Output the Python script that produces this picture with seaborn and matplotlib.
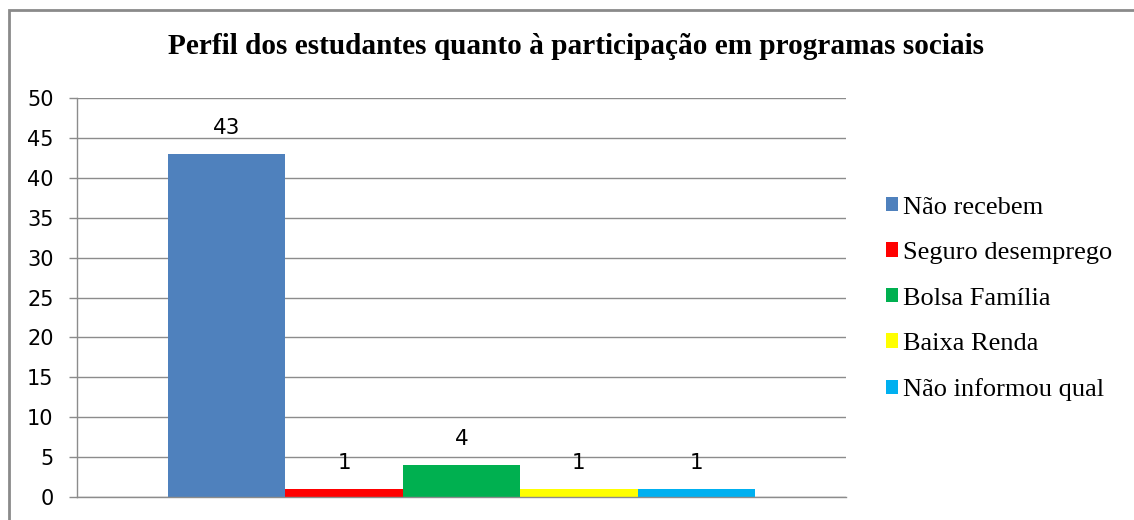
import matplotlib
matplotlib.use("Agg")
import matplotlib.pyplot as plt
import seaborn as sns
import pandas as pd
from matplotlib.patches import Rectangle

series = ["Não recebem", "Seguro desemprego", "Bolsa Família", "Baixa Renda", "Não informou qual"]
values = [43, 1, 4, 1, 1]
colors = ["#4F81BD", "#FF0000", "#00B050", "#FFFF00", "#00B0F0"]
title = "Perfil dos estudantes quanto à participação em programas sociais"
yticks = [0, 5, 10, 15, 20, 25, 30, 35, 40, 45, 50]

df = pd.DataFrame({"grupo": [""] * len(series), "serie": series, "valor": values})

sns.set_theme(style="white")
plt.rcParams["font.family"] = ["DejaVu Sans"]
plt.rcParams["text.color"] = "#000000"

fig = plt.figure(figsize=(11.34, 5.2), dpi=100)
W, H = 1134, 520
ax = fig.add_axes([77 / W, 1 - 497 / H, (846 - 77) / W, (497 - 98) / H])

sns.barplot(data=df, x="grupo", y="valor", hue="serie", hue_order=series,
            palette=colors, width=0.763, gap=0, saturation=1, ax=ax,
            edgecolor="none", linewidth=0, errorbar=None, legend=True)

ax.set_xlim(-0.5, 0.5)
ax.set_ylim(0, 50)
ax.set_yticks(yticks)
ax.set_yticklabels([str(t) for t in yticks], fontsize=15, color="#000000")
ax.set_xticks([])
ax.set_xlabel("")
ax.set_ylabel("")
ax.yaxis.grid(True, color="#8c8c8c", linewidth=1)
ax.set_axisbelow(True)
for s in ["top", "right"]:
    ax.spines[s].set_visible(False)
for s in ["left", "bottom"]:
    ax.spines[s].set_color("#8c8c8c")
    ax.spines[s].set_linewidth(1)
ax.tick_params(axis="y", which="major", left=True, length=5.8, width=1, color="#8c8c8c", pad=11)

for cont in ax.containers:
    ax.bar_label(cont, fmt="%d", padding=11.5, fontsize=15.5, color="#000000")

handles, labels = ax.get_legend_handles_labels()
ax.legend(handles, labels, loc="center left",
          bbox_to_anchor=(886 / W, 1 - 299 / H), bbox_transform=fig.transFigure,
          frameon=False, prop={"family": "Liberation Serif", "size": 19},
          labelcolor="#000000",
          handlelength=0.46, handleheight=0.46, handletextpad=0.2,
          labelspacing=0.89, borderaxespad=0, borderpad=0)

fig.text(576 / W, 1 - 47 / H, title, ha="center", va="center", color="#000000",
         fontsize=21.1, fontweight="bold", family="Liberation Serif")

fig.patches.append(Rectangle((9 / W, -0.1), 1.2, 1 - 10 / H + 0.1,
                             transform=fig.transFigure, fill=False,
                             edgecolor="#8a8a8a", linewidth=2, figure=fig))

fig.savefig("out.png", dpi=100)
